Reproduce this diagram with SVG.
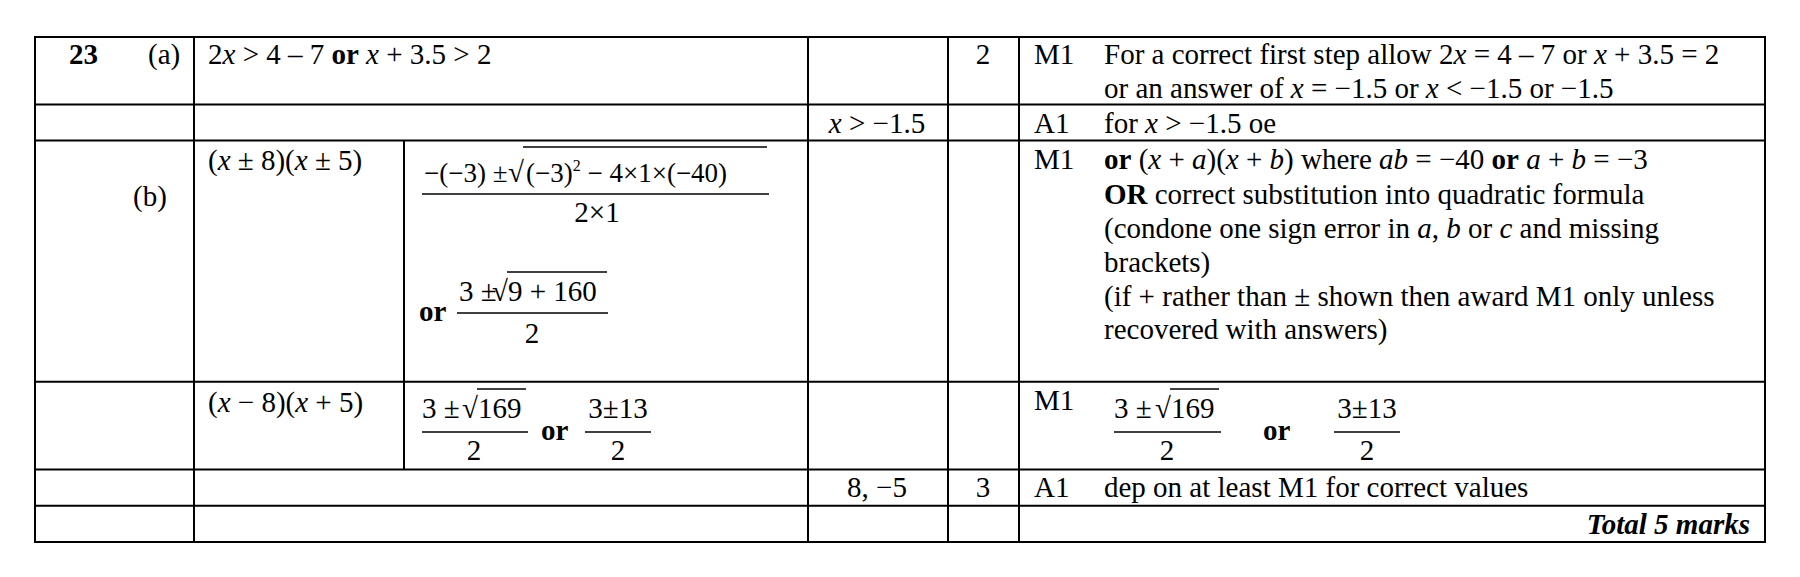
<svg xmlns="http://www.w3.org/2000/svg" width="1800" height="577" viewBox="0 0 1800 577">
<style>
text{font-family:"Liberation Serif","Times New Roman",serif;font-size:29px;fill:#000}
.b{font-weight:bold}.i{font-style:italic}.m{text-anchor:middle}.e{text-anchor:end}
.f{font-size:27px}
line{stroke:#000;stroke-width:1.5}
.t line{stroke-width:2}
</style>
<rect width="1800" height="577" fill="#fff"/>
<g id="grid" class="t">
<rect x="35" y="37" width="1730" height="505" fill="none" stroke="#000" stroke-width="2"/>
<line x1="35" y1="104.5" x2="1765" y2="104.5"/>
<line x1="35" y1="140.6" x2="1765" y2="140.6"/>
<line x1="35" y1="381.7" x2="1765" y2="381.7"/>
<line x1="35" y1="469.6" x2="1765" y2="469.6"/>
<line x1="35" y1="505.7" x2="1765" y2="505.7"/>
<line x1="194" y1="37" x2="194" y2="542"/>
<line x1="404" y1="140.6" x2="404" y2="469.6"/>
<line x1="808" y1="37" x2="808" y2="542"/>
<line x1="948" y1="37" x2="948" y2="542"/>
<line x1="1019" y1="37" x2="1019" y2="542"/>
</g>
<g id="row-a">
<text x="69" y="64" class="b">23</text>
<text x="148" y="64">(a)</text>
<text x="208" y="64">2<tspan class="i">x</tspan> &gt; 4 – 7 <tspan class="b">or</tspan> <tspan class="i">x</tspan> + 3.5 &gt; 2</text>
<text x="983" y="64" class="m">2</text>
<text x="1034" y="64">M1</text>
<text x="1104" y="64">For a correct first step allow 2<tspan class="i">x</tspan> = 4 – 7 or <tspan class="i">x</tspan> + 3.5 = 2</text>
<text x="1104" y="97.5">or an answer of <tspan class="i">x</tspan> = −1.5 or <tspan class="i">x</tspan> &lt; −1.5 or −1.5</text>
</g>
<g id="row-a2">
<text x="877" y="132.5" class="m"><tspan class="i">x</tspan> &gt; −1.5</text>
<text x="1034" y="132.5">A1</text>
<text x="1104" y="132.5">for <tspan class="i">x</tspan> &gt; −1.5 oe</text>
</g>
<g id="row-b">
<text x="133" y="206">(b)</text>
<text x="208" y="170">(<tspan class="i">x</tspan> ± 8)(<tspan class="i">x</tspan> ± 5)</text>
<text x="424" y="182" class="f">−(−3) ±</text>
<text x="508" y="182">√</text>
<line x1="523" y1="147" x2="767" y2="147"/>
<text x="526" y="182" class="f">(−3)<tspan dy="-11" font-size="16">2</tspan><tspan dy="11"> − 4×1×(−40)</tspan></text>
<line x1="422" y1="194" x2="769" y2="194"/>
<text x="597" y="222" class="m">2×1</text>
<text x="419" y="321" class="b">or</text>
<text x="459" y="301">3 ±</text>
<text x="492" y="301">√</text>
<line x1="507" y1="272" x2="607" y2="272"/>
<text x="508" y="301">9 + 160</text>
<line x1="457" y1="313" x2="608" y2="313"/>
<text x="532" y="343" class="m">2</text>
<text x="1034" y="169">M1</text>
<text x="1104" y="169"><tspan class="b">or</tspan> (<tspan class="i">x</tspan> + <tspan class="i">a</tspan>)(<tspan class="i">x</tspan> + <tspan class="i">b</tspan>) where <tspan class="i">ab</tspan> = −40 <tspan class="b">or</tspan> <tspan class="i">a</tspan> + <tspan class="i">b</tspan> = −3</text>
<text x="1104" y="203.5"><tspan class="b">OR</tspan> correct substitution into quadratic formula</text>
<text x="1104" y="237.5">(condone one sign error in <tspan class="i">a</tspan>, <tspan class="i">b</tspan> or <tspan class="i">c</tspan> and missing</text>
<text x="1104" y="272">brackets)</text>
<text x="1104" y="305.5">(if + rather than ± shown then award M1 only unless</text>
<text x="1104" y="338.6">recovered with answers)</text>
</g>
<g id="row-b2">
<text x="208" y="412">(<tspan class="i">x</tspan> − 8)(<tspan class="i">x</tspan> + 5)</text>
<text x="422" y="418">3 ±</text>
<text x="462" y="418">√</text>
<line x1="477" y1="389" x2="526" y2="389"/>
<text x="478" y="418">169</text>
<line x1="422" y1="432" x2="528" y2="432"/>
<text x="474" y="460" class="m">2</text>
<text x="541" y="440" class="b">or</text>
<text x="618" y="418" class="m">3±13</text>
<line x1="585" y1="432" x2="651" y2="432"/>
<text x="618" y="460" class="m">2</text>
<text x="1034" y="410">M1</text>
<text x="1114" y="418">3 ±</text>
<text x="1155" y="418">√</text>
<line x1="1170" y1="389" x2="1219" y2="389"/>
<text x="1171" y="418">169</text>
<line x1="1114" y1="432" x2="1221" y2="432"/>
<text x="1167" y="460" class="m">2</text>
<text x="1263" y="440" class="b">or</text>
<text x="1367" y="418" class="m">3±13</text>
<line x1="1334" y1="432" x2="1400" y2="432"/>
<text x="1367" y="460" class="m">2</text>
</g>
<g id="row-b3">
<text x="877" y="497" class="m">8, −5</text>
<text x="983" y="497" class="m">3</text>
<text x="1034" y="497">A1</text>
<text x="1104" y="497">dep on at least M1 for correct values</text>
</g>
<g id="total">
<text x="1750" y="533.7" class="e b i">Total 5 marks</text>
</g>
</svg>
